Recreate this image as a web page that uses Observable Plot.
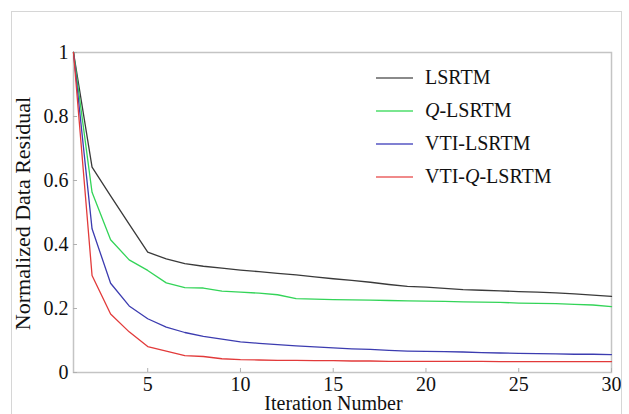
<!DOCTYPE html>
<html>
<head>
<meta charset="utf-8">
<script src="https://cdn.jsdelivr.net/npm/d3@7"></script>
<script src="https://cdn.jsdelivr.net/npm/@observablehq/plot@0.6"></script>
</head>
<body style="margin:0;padding:0;background:#fff;">
<div id="wrap" style="position:relative;width:629px;height:414px;overflow:hidden;font-family:'Liberation Serif';">
  <div id="chart"></div>
  <div id="outer" style="position:absolute;left:11px;top:11px;width:611px;height:430px;border:1.5px solid #d6d6d6;box-sizing:border-box;"></div>
  <div id="legend" style="position:absolute;left:376px;top:61px;font-size:20px;color:#111;font-family:'Liberation Serif';"></div>
</div>
<script>
const iterations = d3.range(1, 31);
const seriesNames = ["LSRTM", "Q-LSRTM", "VTI-LSRTM", "VTI-Q-LSRTM"];
const seriesLabelsHtml = ["LSRTM", "<i>Q</i>-LSRTM", "VTI-LSRTM", "VTI-<i>Q</i>-LSRTM"];
const seriesColors = ["#3a3a3a", "#33d458", "#3c3cb0", "#e23a3a"];
const legendColors = ["#8a8a8a", "#7ae690", "#8080d2", "#f08a8a"];

const lsrtm = [1.0, 0.642, 0.552, 0.464, 0.376, 0.355, 0.340, 0.332, 0.326, 0.320,
  0.315, 0.310, 0.305, 0.299, 0.293, 0.288, 0.282, 0.275, 0.269, 0.267,
  0.263, 0.259, 0.257, 0.255, 0.253, 0.251, 0.249, 0.246, 0.242, 0.238];
const qLsrtm = [1.0, 0.563, 0.415, 0.352, 0.319, 0.280, 0.265, 0.264, 0.254, 0.251,
  0.248, 0.243, 0.231, 0.229, 0.228, 0.227, 0.226, 0.225, 0.224, 0.223,
  0.222, 0.221, 0.220, 0.219, 0.217, 0.216, 0.215, 0.213, 0.211, 0.206];
const vtiLsrtm = [1.0, 0.449, 0.279, 0.208, 0.168, 0.142, 0.125, 0.113, 0.104, 0.096,
  0.091, 0.087, 0.083, 0.080, 0.077, 0.074, 0.072, 0.069, 0.067, 0.066,
  0.065, 0.064, 0.062, 0.061, 0.060, 0.059, 0.058, 0.057, 0.057, 0.056];
const vtiQLsrtm = [1.0, 0.303, 0.183, 0.127, 0.081, 0.067, 0.053, 0.050, 0.043, 0.040,
  0.039, 0.038, 0.038, 0.037, 0.037, 0.036, 0.036, 0.035, 0.035, 0.035,
  0.035, 0.035, 0.035, 0.034, 0.034, 0.034, 0.034, 0.034, 0.034, 0.034];

const xTicks = [5, 10, 15, 20, 25, 30];
const yTicks = [0, 0.2, 0.4, 0.6, 0.8, 1];
const xTitle = "Iteration Number";
const yTitle = "Normalized Data Residual";

const allSeries = [lsrtm, qLsrtm, vtiLsrtm, vtiQLsrtm];
const rows = [];
allSeries.forEach((vals, s) => vals.forEach((v, i) => rows.push({series: seriesNames[s], x: iterations[i], y: v})));

const font = "Liberation Serif";
const chart = Plot.plot({
  width: 629,
  height: 414,
  marginLeft: 73,
  marginRight: 18,
  marginTop: 52,
  marginBottom: 42,
  style: {fontFamily: font, fontSize: "20px", color: "#111", background: "transparent"},
  x: {domain: [1, 30]},
  y: {domain: [0, 1]},
  color: {domain: seriesNames, range: seriesColors},
  marks: [
    Plot.frame({stroke: "#c4c4c4", strokeWidth: 1.5}),
    Plot.axisX({ticks: xTicks, tickSize: -4, tickPadding: 8, stroke: "#b0b0b0", fill: "#111", fontSize: 20, fontFamily: font, label: null, tickFormat: d => String(d)}),
    Plot.axisY({ticks: yTicks, tickSize: -4, tickPadding: 9, stroke: "#b0b0b0", fill: "#111", fontSize: 20, fontFamily: font, label: null, tickFormat: d => String(d)}),
    Plot.line(rows, {x: "x", y: "y", z: "series", stroke: "series", strokeWidth: 1.3}),
    Plot.text([xTitle], {frameAnchor: "bottom", lineAnchor: "middle", textAnchor: "middle", dy: 31.5, dx: -9, fontSize: 20, fontFamily: font, fill: "#111"}),
    Plot.text([yTitle], {frameAnchor: "left", lineAnchor: "middle", textAnchor: "middle", rotate: -90, dx: -51, dy: 1, fontSize: 22, fontFamily: font, fill: "#111"})
  ]
});
chart.setAttribute("font-family", font);
document.getElementById("chart").appendChild(chart);

const legend = document.getElementById("legend");
const rowTops = [0, 33, 66, 99];
seriesNames.forEach((name, i) => {
  const r = document.createElement("div");
  r.setAttribute("style", `position:absolute;left:0;top:${rowTops[i]}px;height:33px;display:flex;align-items:center;white-space:nowrap;font-family:'Liberation Serif';font-size:20px;`);
  r.innerHTML = `<span style="width:37px;height:0;border-top:2px solid ${legendColors[i]};margin-right:12px;"></span><span>${seriesLabelsHtml[i]}</span>`;
  legend.appendChild(r);
});
</script>
</body>
</html>
